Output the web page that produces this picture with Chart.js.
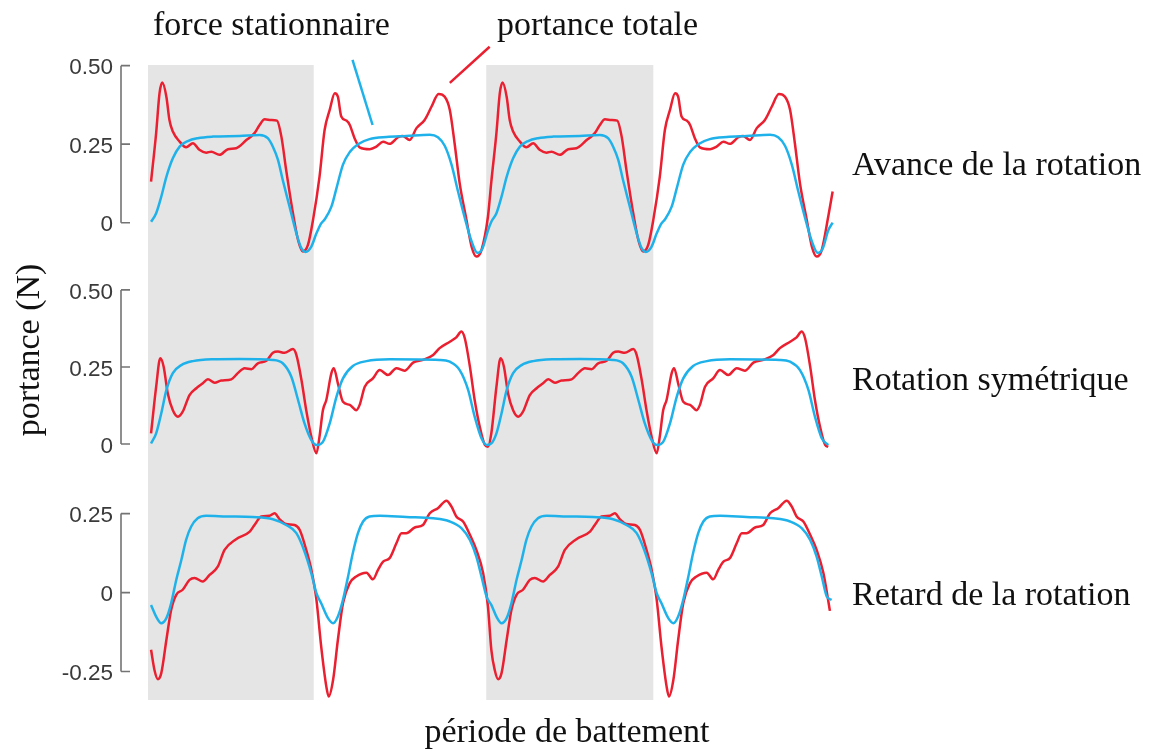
<!DOCTYPE html>
<html>
<head>
<meta charset="utf-8">
<script src="https://cdn.jsdelivr.net/npm/chart.js@4.4.1/dist/chart.umd.min.js"></script>
<style>
  html, body { margin: 0; padding: 0; background: #fff; }
  #wrap { width: 1151px; height: 751px; }
</style>
</head>
<body>
<div id="wrap"><canvas id="liftChart" width="1151" height="751"></canvas></div>
<script>
// time in flapping periods, lift in N  -- [t, value]
const avanceTotale = [[0.009,0.131],[0.024,0.286],[0.034,0.413],[0.042,0.446],[0.054,0.401],[0.063,0.327],[0.073,0.290],[0.093,0.258],[0.112,0.240],[0.132,0.253],[0.151,0.232],[0.171,0.223],[0.186,0.226],[0.210,0.216],[0.235,0.234],[0.259,0.237],[0.289,0.263],[0.313,0.285],[0.328,0.311],[0.343,0.329],[0.362,0.327],[0.379,0.325],[0.392,0.274],[0.406,0.168],[0.426,0.030],[0.441,-0.055],[0.455,-0.092],[0.470,-0.071],[0.485,0.009],[0.504,0.146],[0.519,0.295],[0.534,0.359],[0.549,0.412],[0.558,0.401],[0.568,0.338],[0.583,0.325],[0.593,0.311],[0.607,0.269],[0.622,0.240],[0.652,0.234],[0.671,0.242],[0.691,0.258],[0.710,0.251],[0.735,0.272],[0.749,0.276],[0.769,0.263],[0.789,0.301],[0.813,0.327],[0.833,0.369],[0.854,0.410],[0.872,0.401],[0.887,0.359],[0.901,0.253],[0.916,0.125],[0.936,0.009],[0.951,-0.076],[0.965,-0.108],[0.980,-0.087],[0.999,0.019],
  [1.009,0.131],[1.024,0.286],[1.034,0.413],[1.042,0.446],[1.054,0.401],[1.063,0.327],[1.073,0.290],[1.093,0.258],[1.112,0.240],[1.132,0.253],[1.151,0.232],[1.171,0.223],[1.186,0.226],[1.210,0.216],[1.235,0.234],[1.259,0.237],[1.289,0.263],[1.313,0.285],[1.328,0.311],[1.343,0.329],[1.362,0.327],[1.379,0.325],[1.392,0.274],[1.406,0.168],[1.426,0.030],[1.441,-0.055],[1.455,-0.092],[1.470,-0.071],[1.485,0.009],[1.504,0.146],[1.519,0.295],[1.534,0.359],[1.549,0.412],[1.558,0.401],[1.568,0.338],[1.583,0.325],[1.593,0.311],[1.607,0.269],[1.622,0.240],[1.652,0.234],[1.671,0.242],[1.691,0.258],[1.710,0.251],[1.735,0.272],[1.749,0.276],[1.769,0.263],[1.789,0.301],[1.813,0.327],[1.833,0.369],[1.854,0.410],[1.872,0.401],[1.887,0.359],[1.901,0.253],[1.916,0.125],[1.936,0.009],[1.951,-0.076],[1.965,-0.108],[1.980,-0.087],[1.999,0.019],[2.012,0.099]];

const avanceStat = [[0.009,0.003],[0.024,0.030],[0.039,0.083],[0.054,0.146],[0.073,0.205],[0.093,0.242],[0.117,0.260],[0.146,0.269],[0.191,0.274],[0.269,0.276],[0.328,0.279],[0.352,0.269],[0.367,0.242],[0.382,0.200],[0.396,0.136],[0.416,0.051],[0.436,-0.034],[0.451,-0.082],[0.463,-0.093],[0.480,-0.076],[0.495,-0.034],[0.509,-0.002],[0.519,0.010],[0.539,0.051],[0.554,0.110],[0.573,0.185],[0.593,0.225],[0.617,0.250],[0.651,0.266],[0.701,0.273],[0.759,0.276],[0.828,0.280],[0.852,0.272],[0.872,0.245],[0.892,0.185],[0.911,0.100],[0.931,0.015],[0.951,-0.060],[0.968,-0.096],[0.983,-0.082],[0.999,-0.025],
  [1.009,0.003],[1.024,0.030],[1.039,0.083],[1.054,0.146],[1.073,0.205],[1.093,0.242],[1.117,0.260],[1.146,0.269],[1.191,0.274],[1.269,0.276],[1.328,0.279],[1.352,0.269],[1.367,0.242],[1.382,0.200],[1.396,0.136],[1.416,0.051],[1.436,-0.034],[1.451,-0.082],[1.463,-0.093],[1.480,-0.076],[1.495,-0.034],[1.509,-0.002],[1.519,0.010],[1.539,0.051],[1.554,0.110],[1.573,0.185],[1.593,0.225],[1.617,0.250],[1.651,0.266],[1.701,0.273],[1.759,0.276],[1.828,0.280],[1.852,0.272],[1.872,0.245],[1.892,0.185],[1.911,0.100],[1.931,0.015],[1.951,-0.060],[1.968,-0.096],[1.983,-0.082],[1.999,-0.025],[2.012,0.000]];

const symTotale = [[0.009,0.035],[0.024,0.186],[0.036,0.278],[0.046,0.251],[0.058,0.165],[0.073,0.110],[0.088,0.089],[0.102,0.105],[0.122,0.159],[0.142,0.181],[0.161,0.197],[0.176,0.210],[0.196,0.199],[0.215,0.206],[0.245,0.210],[0.264,0.230],[0.284,0.246],[0.304,0.243],[0.323,0.262],[0.348,0.270],[0.367,0.296],[0.382,0.300],[0.401,0.296],[0.426,0.308],[0.436,0.289],[0.451,0.208],[0.465,0.110],[0.480,0.024],[0.495,-0.030],[0.504,0.024],[0.514,0.110],[0.524,0.143],[0.539,0.230],[0.546,0.246],[0.558,0.197],[0.573,0.137],[0.593,0.127],[0.612,0.110],[0.622,0.127],[0.637,0.186],[0.661,0.213],[0.681,0.240],[0.705,0.224],[0.730,0.246],[0.754,0.238],[0.779,0.264],[0.808,0.273],[0.838,0.289],[0.857,0.311],[0.887,0.332],[0.906,0.346],[0.921,0.365],[0.931,0.343],[0.946,0.251],[0.960,0.143],[0.975,0.056],[0.990,-0.003],[0.999,-0.009],
  [1.009,0.035],[1.024,0.186],[1.036,0.278],[1.046,0.251],[1.058,0.165],[1.073,0.110],[1.088,0.089],[1.102,0.105],[1.122,0.159],[1.142,0.181],[1.161,0.197],[1.176,0.210],[1.196,0.199],[1.215,0.206],[1.245,0.210],[1.264,0.230],[1.284,0.246],[1.304,0.243],[1.323,0.262],[1.348,0.270],[1.367,0.296],[1.382,0.300],[1.401,0.296],[1.426,0.308],[1.436,0.289],[1.451,0.208],[1.465,0.110],[1.480,0.024],[1.495,-0.030],[1.504,0.024],[1.514,0.110],[1.524,0.143],[1.539,0.230],[1.546,0.246],[1.558,0.197],[1.573,0.137],[1.593,0.127],[1.612,0.110],[1.622,0.127],[1.637,0.186],[1.661,0.213],[1.681,0.240],[1.705,0.224],[1.730,0.246],[1.754,0.238],[1.779,0.264],[1.808,0.273],[1.838,0.289],[1.857,0.311],[1.887,0.332],[1.906,0.346],[1.921,0.365],[1.931,0.343],[1.946,0.251],[1.960,0.143],[1.975,0.056],[1.990,-0.003],[1.999,-0.009]];

const symStat = [[0.009,0.002],[0.024,0.035],[0.039,0.100],[0.054,0.175],[0.073,0.230],[0.098,0.256],[0.132,0.269],[0.191,0.275],[0.269,0.276],[0.367,0.273],[0.396,0.262],[0.421,0.219],[0.441,0.143],[0.460,0.067],[0.480,0.013],[0.496,-0.003],[0.514,0.007],[0.534,0.067],[0.554,0.154],[0.573,0.213],[0.602,0.253],[0.642,0.269],[0.710,0.275],[0.857,0.273],[0.887,0.267],[0.916,0.240],[0.941,0.175],[0.960,0.089],[0.980,0.019],[0.996,-0.003],
  [1.009,0.002],[1.024,0.035],[1.039,0.100],[1.054,0.175],[1.073,0.230],[1.098,0.256],[1.132,0.269],[1.191,0.275],[1.269,0.276],[1.367,0.273],[1.396,0.262],[1.421,0.219],[1.441,0.143],[1.460,0.067],[1.480,0.013],[1.496,-0.003],[1.514,0.007],[1.534,0.067],[1.554,0.154],[1.573,0.213],[1.602,0.253],[1.642,0.269],[1.710,0.275],[1.857,0.273],[1.887,0.267],[1.916,0.240],[1.941,0.175],[1.960,0.089],[1.980,0.019],[1.999,-0.003]];

const retardTotale = [[0.009,-0.181],[0.019,-0.245],[0.029,-0.274],[0.039,-0.255],[0.054,-0.150],[0.068,-0.055],[0.083,-0.007],[0.102,0.009],[0.122,0.040],[0.137,0.046],[0.161,0.035],[0.181,0.056],[0.205,0.082],[0.225,0.135],[0.259,0.169],[0.299,0.193],[0.313,0.214],[0.333,0.241],[0.357,0.243],[0.372,0.251],[0.387,0.232],[0.406,0.217],[0.431,0.214],[0.446,0.198],[0.465,0.135],[0.480,0.072],[0.495,-0.023],[0.509,-0.171],[0.524,-0.297],[0.531,-0.329],[0.544,-0.276],[0.558,-0.150],[0.573,-0.034],[0.593,0.030],[0.612,0.051],[0.642,0.063],[0.661,0.042],[0.676,0.072],[0.691,0.098],[0.710,0.109],[0.730,0.156],[0.745,0.188],[0.759,0.188],[0.784,0.206],[0.808,0.214],[0.828,0.251],[0.852,0.267],[0.877,0.291],[0.892,0.272],[0.906,0.241],[0.926,0.225],[0.946,0.183],[0.965,0.135],[0.985,0.061],[0.999,-0.044],
  [1.009,-0.181],[1.019,-0.245],[1.029,-0.274],[1.039,-0.255],[1.054,-0.150],[1.068,-0.055],[1.083,-0.007],[1.102,0.009],[1.122,0.040],[1.137,0.046],[1.161,0.035],[1.181,0.056],[1.205,0.082],[1.225,0.135],[1.259,0.169],[1.299,0.193],[1.313,0.214],[1.333,0.241],[1.357,0.243],[1.372,0.251],[1.387,0.232],[1.406,0.217],[1.431,0.214],[1.446,0.198],[1.465,0.135],[1.480,0.072],[1.495,-0.023],[1.509,-0.171],[1.524,-0.297],[1.531,-0.329],[1.544,-0.276],[1.558,-0.150],[1.573,-0.034],[1.593,0.030],[1.612,0.051],[1.642,0.063],[1.661,0.042],[1.676,0.072],[1.691,0.098],[1.710,0.109],[1.730,0.156],[1.745,0.188],[1.759,0.188],[1.784,0.206],[1.808,0.214],[1.828,0.251],[1.852,0.267],[1.877,0.291],[1.892,0.272],[1.906,0.241],[1.926,0.225],[1.946,0.183],[1.965,0.135],[1.985,0.061],[2.004,-0.058]];

const retardStat = [[0.009,-0.039],[0.024,-0.076],[0.039,-0.097],[0.054,-0.081],[0.068,-0.034],[0.083,0.040],[0.098,0.103],[0.112,0.167],[0.127,0.209],[0.146,0.235],[0.171,0.243],[0.230,0.241],[0.308,0.239],[0.367,0.232],[0.406,0.214],[0.436,0.188],[0.460,0.130],[0.480,0.061],[0.495,-0.002],[0.509,-0.034],[0.529,-0.081],[0.544,-0.097],[0.558,-0.076],[0.573,-0.023],[0.588,0.051],[0.602,0.125],[0.617,0.188],[0.632,0.225],[0.651,0.241],[0.681,0.243],[0.759,0.239],[0.838,0.235],[0.887,0.225],[0.921,0.204],[0.946,0.167],[0.965,0.114],[0.980,0.051],[0.995,-0.013],
  [1.009,-0.039],[1.024,-0.076],[1.039,-0.097],[1.054,-0.081],[1.068,-0.034],[1.083,0.040],[1.098,0.103],[1.112,0.167],[1.127,0.209],[1.146,0.235],[1.171,0.243],[1.230,0.241],[1.308,0.239],[1.367,0.232],[1.406,0.214],[1.436,0.188],[1.460,0.130],[1.480,0.061],[1.495,-0.002],[1.509,-0.034],[1.529,-0.081],[1.544,-0.097],[1.558,-0.076],[1.573,-0.023],[1.588,0.051],[1.602,0.125],[1.617,0.188],[1.632,0.225],[1.651,0.241],[1.681,0.243],[1.759,0.239],[1.838,0.235],[1.887,0.225],[1.921,0.204],[1.946,0.167],[1.965,0.114],[1.980,0.051],[1.995,-0.013],[2.009,-0.023]];

// downstroke intervals (grey bands), in periods
const downstrokes = [[0, 0.487], [0.994, 1.485]];

// leader lines of the two top labels (panel 1 coordinates)
const leaderStat = [[0.601, 0.518], [0.660, 0.311]];
const leaderTot = [[0.887, 0.445], [1.004, 0.560]];

const ticksA = [0, 0.25, 0.5], labelsA = ['0', '0.25', '0.50'];
const ticksB = [0, 0.25, 0.5], labelsB = ['0', '0.25', '0.50'];
const ticksC = [-0.25, 0, 0.25], labelsC = ['-0.25', '0', '0.25'];

const panelNames = ['Avance de la rotation', 'Rotation symétrique', 'Retard de la rotation'];

const RED = '#ea1f30';
const BLUE = '#1fb2ea';
const SERIF = '34px "Liberation Serif", "DejaVu Serif", serif';

function line(data, color, axis, extra) {
  return Object.assign({
    data: data,
    yAxisID: axis,
    borderColor: color,
    borderWidth: 2.5,
    pointRadius: 0,
    fill: false,
    cubicInterpolationMode: 'monotone'
  }, extra || {});
}

const decorPlugin = {
  id: 'decor',
  beforeDatasetsDraw(chart) {
    const { ctx, chartArea, scales } = chart;
    ctx.save();
    ctx.fillStyle = '#e5e5e5';
    downstrokes.forEach(([a, b]) => {
      const x0 = scales.x.getPixelForValue(a);
      const x1 = scales.x.getPixelForValue(b);
      ctx.fillRect(x0, chartArea.top, x1 - x0, chartArea.bottom - chartArea.top);
    });
    ctx.restore();
  },
  afterDraw(chart) {
    const { ctx, chartArea, scales } = chart;
    ctx.save();
    // MATLAB-like y axes, left of the plot
    const axisX = 121;
    [[scales.yA, ticksA, labelsA], [scales.yB, ticksB, labelsB], [scales.yC, ticksC, labelsC]].forEach(([sc, tks, lbs]) => {
      const yTop = sc.getPixelForValue(tks[tks.length - 1]);
      const yBot = sc.getPixelForValue(tks[0]);
      ctx.strokeStyle = '#747474';
      ctx.lineWidth = 1.6;
      ctx.beginPath();
      ctx.moveTo(axisX, yTop);
      ctx.lineTo(axisX, yBot);
      tks.forEach(v => {
        const y = sc.getPixelForValue(v);
        ctx.moveTo(axisX, y);
        ctx.lineTo(axisX + 9, y);
      });
      ctx.stroke();
      ctx.fillStyle = '#3a3a3a';
      ctx.font = '22.5px "Liberation Sans", Arial, sans-serif';
      ctx.textAlign = 'right';
      ctx.textBaseline = 'middle';
      tks.forEach((v, i) => ctx.fillText(lbs[i], 113, sc.getPixelForValue(v) + 2.5));
    });

    ctx.fillStyle = '#111';
    ctx.font = SERIF;
    ctx.textBaseline = 'alphabetic';
    ctx.textAlign = 'left';
    ctx.fillText('force stationnaire', 153, 35);
    ctx.fillText('portance totale', 497, 35);

    const nameX = chartArea.right + 18;
    ctx.fillText(panelNames[0], nameX, 175);
    ctx.fillText(panelNames[1], nameX, 390);
    ctx.fillText(panelNames[2], nameX, 605);

    ctx.textAlign = 'center';
    ctx.fillText('période de battement', (chartArea.left + chartArea.right) / 2 + 76, 742);

    ctx.translate(39, 350);
    ctx.rotate(-Math.PI / 2);
    ctx.fillText('portance (N)', 0, 0);
    ctx.restore();
  }
};

const chart = new Chart(document.getElementById('liftChart'), {
  type: 'line',
  data: {
    datasets: [
      line(avanceStat, BLUE, 'yA'),
      line(avanceTotale, RED, 'yA'),
      line(symStat, BLUE, 'yB'),
      line(symTotale, RED, 'yB'),
      line(retardStat, BLUE, 'yC'),
      line(retardTotale, RED, 'yC'),
      line(leaderStat, BLUE, 'yA', { clip: false, cubicInterpolationMode: 'default' }),
      line(leaderTot, RED, 'yA', { clip: false, cubicInterpolationMode: 'default' })
    ]
  },
  options: {
    responsive: false,
    animation: false,
    events: [],
    layout: { padding: { left: 148, right: 317, top: 65, bottom: 51 } },
    plugins: { legend: { display: false }, tooltip: { enabled: false } },
    scales: {
      x: { type: 'linear', min: 0, max: 2.016, display: false },
      yA: { type: 'linear', position: 'left', stack: 'panels', stackWeight: 207, weight: 3, min: -0.157, max: 0.502, display: false },
      yB: { type: 'linear', position: 'left', stack: 'panels', stackWeight: 210, weight: 2, min: -0.123, max: 0.558, display: false },
      yC: { type: 'linear', position: 'left', stack: 'panels', stackWeight: 218, weight: 1, min: -0.340, max: 0.350, display: false }
    }
  },
  plugins: [decorPlugin]
});
</script>
</body>
</html>
